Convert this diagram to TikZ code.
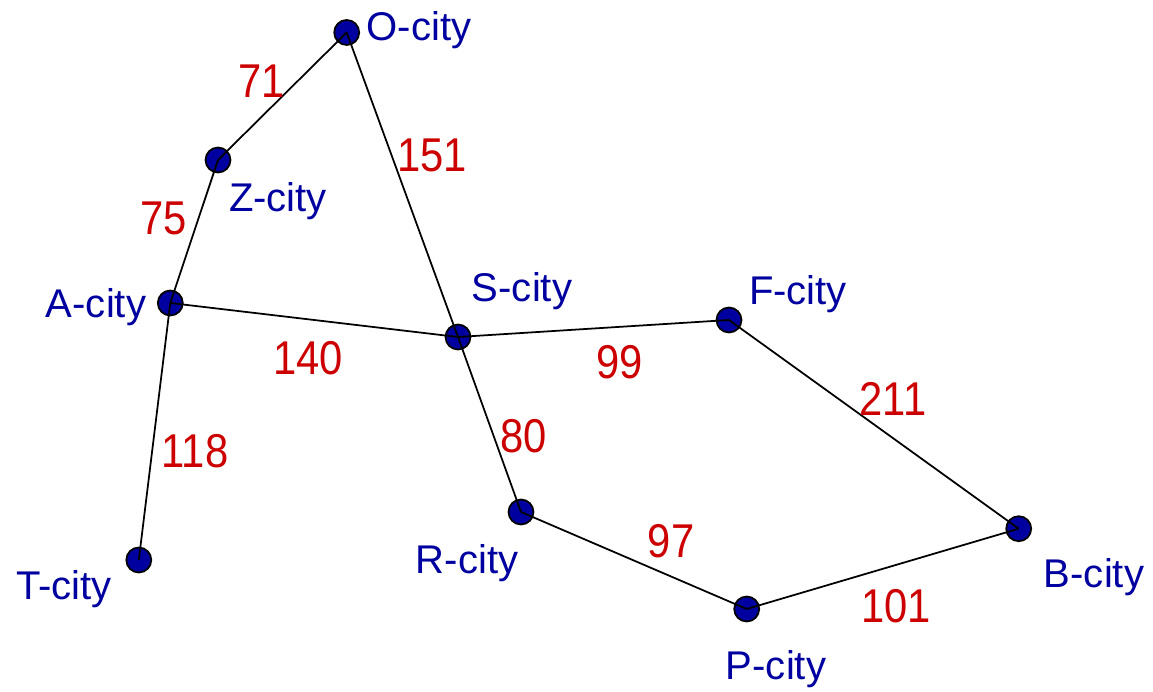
\documentclass[tikz,border=0pt]{standalone}
\usepackage{fontspec}
\setmainfont{Liberation Sans}
\newfontfamily\distfont[FakeStretch=0.88]{Liberation Sans}
\usetikzlibrary{positioning}
\definecolor{cityblue}{RGB}{0,0,160}
\definecolor{distred}{RGB}{204,0,0}

\begin{document}
\begin{tikzpicture}[x=0.02cm,y=-0.02cm,
  city/.style={circle,draw=black,line width=1pt,fill=cityblue,minimum size=0.5cm,inner sep=0pt},
  cname/.style={text=cityblue,font=\fontsize{22.8}{26}\selectfont,inner sep=0pt},
  dist/.style={text=distred,font=\distfont\fontsize{27}{31}\selectfont,inner sep=0pt},
  road/.style={line width=1pt}]
  \useasboundingbox (0,0) rectangle (1153,692);
  % cities
  \node[city] (O) at (346.7,32.5) {};
  \node[city] (Z) at (218,160) {};
  \node[city] (A) at (170.3,303) {};
  \node[city] (S) at (458,337) {};
  \node[city] (F) at (729,320) {};
  \node[city] (T) at (138.8,560) {};
  \node[city] (R) at (521,512) {};
  \node[city] (P) at (746.7,609) {};
  \node[city] (B) at (1018.7,528.7) {};
  % roads
  \draw[road] (O.center) -- (Z.center);
  \draw[road] (O.center) -- (S.center);
  \draw[road] (Z.center) -- (A.center);
  \draw[road] (A.center) -- (S.center);
  \draw[road] (A.center) -- (T.center);
  \draw[road] (S.center) -- (F.center);
  \draw[road] (S.center) -- (R.center);
  \draw[road] (F.center) -- (B.center);
  \draw[road] (R.center) -- (P.center);
  \draw[road] (P.center) -- (B.center);
  % names
  \node[cname] (Olbl) at (419,30) {O-city};
  \node[cname] (Zlbl) at (278,201) {Z-city};
  \node[cname] (Albl) at (96,307) {A-city};
  \node[cname] (Slbl) at (522,291) {S-city};
  \node[cname] (Flbl) at (798,294) {F-city};
  \node[cname] (Tlbl) at (64,589) {T-city};
  \node[cname] (Rlbl) at (467,563) {R-city};
  \node[cname] (Plbl) at (776,669) {P-city};
  \node[cname] (Blbl) at (1094,577) {B-city};
  % distances
  \node[dist] (dOZ) at (262,81) {71};
  \node[dist] (dZA) at (164,218) {75};
  \node[dist] (dOS) at (432,155) {151};
  \node[dist] (dAS) at (308,358) {140};
  \node[dist] (dAT) at (195,451) {118};
  \node[dist] (dSF) at (620,362) {99};
  \node[dist] (dSR) at (524,436) {80};
  \node[dist] (dFB) at (893,399) {211};
  \node[dist] (dRP) at (671,541) {97};
  \node[dist] (dPB) at (896,606) {101};
\end{tikzpicture}
\end{document}
